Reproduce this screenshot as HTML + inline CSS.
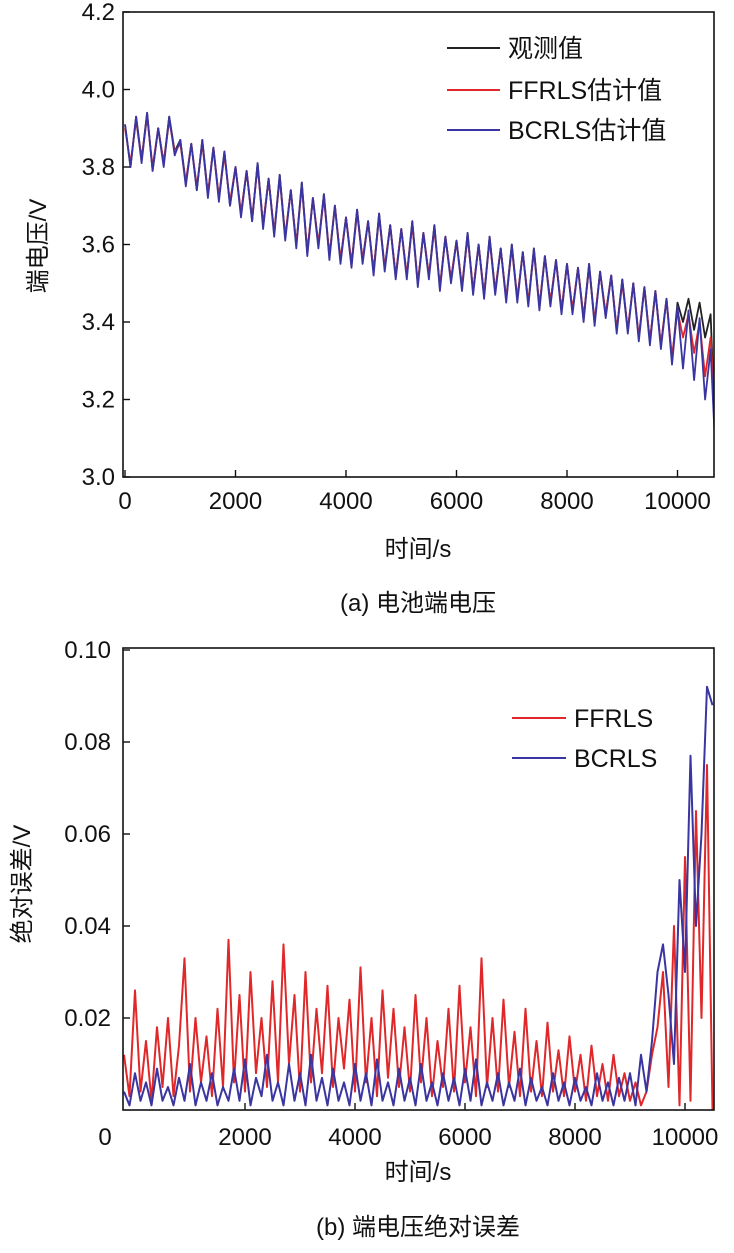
<!DOCTYPE html>
<html><head><meta charset="utf-8"><style>
body{margin:0;background:#fff;width:734px;height:1248px;overflow:hidden}
svg text{font-family:"Liberation Sans","Noto Sans CJK SC",sans-serif;fill:#111}
</style></head><body>
<svg id="s" width="734" height="1248"></svg>
<script>
// Top chart data (time step 100 s, starting 0)
const vTimes0 = 0, vStep = 100;
const obsV = [3.91,3.80,3.93,3.82,3.94,3.79,3.90,3.81,3.93,3.84,
3.87,3.76,3.86,3.74,3.87,3.73,3.85,3.72,3.84,3.70,
3.80,3.68,3.79,3.66,3.81,3.65,3.77,3.63,3.78,3.62,
3.74,3.60,3.76,3.58,3.72,3.60,3.73,3.57,3.70,3.56,
3.67,3.55,3.69,3.56,3.66,3.53,3.68,3.54,3.65,3.52,
3.64,3.52,3.66,3.50,3.63,3.52,3.65,3.49,3.62,3.51,
3.61,3.49,3.63,3.48,3.60,3.47,3.62,3.48,3.59,3.46,
3.60,3.46,3.58,3.45,3.59,3.44,3.57,3.45,3.56,3.43,
3.55,3.43,3.54,3.41,3.55,3.40,3.53,3.42,3.52,3.38,
3.51,3.38,3.50,3.36,3.49,3.35,3.48,3.34,3.46,3.30,
3.45,3.40,3.46,3.38,3.45,3.36,3.42,3.05];
const ffrlsV = [3.90,3.81,3.92,3.82,3.93,3.80,3.90,3.81,3.92,3.84,
3.86,3.76,3.86,3.75,3.86,3.73,3.85,3.72,3.83,3.71,
3.80,3.68,3.79,3.67,3.80,3.65,3.77,3.63,3.77,3.62,
3.74,3.60,3.75,3.58,3.72,3.60,3.72,3.57,3.70,3.56,
3.67,3.55,3.68,3.56,3.66,3.53,3.67,3.54,3.65,3.52,
3.64,3.52,3.65,3.50,3.63,3.52,3.64,3.49,3.62,3.51,
3.61,3.49,3.62,3.48,3.60,3.47,3.61,3.48,3.59,3.46,
3.59,3.46,3.58,3.45,3.58,3.44,3.57,3.45,3.56,3.43,
3.55,3.43,3.54,3.41,3.54,3.40,3.53,3.42,3.52,3.38,
3.50,3.38,3.50,3.36,3.49,3.35,3.48,3.34,3.46,3.31,
3.43,3.36,3.42,3.32,3.40,3.26,3.36,3.10];
const bcrlsV = [3.91,3.80,3.93,3.81,3.94,3.79,3.90,3.80,3.93,3.83,
3.87,3.75,3.86,3.74,3.87,3.72,3.85,3.71,3.84,3.70,
3.80,3.67,3.79,3.66,3.81,3.64,3.77,3.62,3.78,3.61,
3.74,3.59,3.76,3.57,3.72,3.59,3.73,3.56,3.70,3.55,
3.67,3.54,3.69,3.55,3.66,3.52,3.68,3.53,3.65,3.51,
3.64,3.51,3.66,3.49,3.63,3.51,3.65,3.48,3.62,3.50,
3.61,3.48,3.63,3.47,3.60,3.46,3.62,3.47,3.59,3.45,
3.60,3.45,3.58,3.44,3.59,3.43,3.57,3.44,3.56,3.42,
3.55,3.42,3.54,3.40,3.55,3.39,3.53,3.41,3.52,3.37,
3.51,3.37,3.50,3.35,3.49,3.34,3.48,3.33,3.46,3.29,
3.44,3.28,3.43,3.25,3.41,3.20,3.33,3.02];
const topXTicks = [0,2000,4000,6000,8000,10000];
const topYTicks = ["3.0","3.2","3.4","3.6","3.8","4.0","4.2"];

// Bottom chart data (time step 100 s, starting -200)
const eStart = -200;
const ffrlsE = [.012,.003,.026,.004,.015,.002,.018,.005,.02,.003,
.014,.033,.004,.02,.006,.016,.003,.022,.005,.037,
.006,.025,.004,.03,.008,.02,.005,.028,.006,.036,
.01,.025,.004,.03,.006,.022,.008,.027,.005,.02,
.009,.024,.004,.031,.006,.02,.003,.026,.007,.022,
.005,.018,.004,.025,.006,.02,.003,.015,.005,.022,
.004,.027,.006,.018,.003,.033,.005,.02,.004,.024,
.005,.017,.003,.022,.004,.015,.003,.019,.004,.013,
.003,.016,.004,.012,.002,.014,.003,.010,.002,.012,
.003,.008,.002,.006,.001,.004,.012,.018,.030,.005,
.040,.001,.055,.002,.065,.020,.075,.0];
const bcrlsE = [.004,.001,.008,.002,.006,.001,.009,.002,.005,.001,
.007,.002,.010,.001,.006,.002,.008,.001,.005,.002,
.009,.002,.011,.001,.007,.003,.012,.002,.006,.001,
.010,.002,.008,.001,.012,.002,.007,.001,.009,.002,
.006,.001,.010,.002,.008,.001,.011,.002,.006,.001,
.009,.002,.007,.001,.010,.002,.006,.001,.008,.002,
.007,.001,.009,.002,.011,.001,.006,.002,.008,.001,
.006,.002,.009,.001,.007,.002,.005,.001,.008,.002,
.006,.001,.007,.002,.005,.001,.008,.002,.006,.001,
.007,.002,.008,.001,.012,.004,.015,.030,.036,.025,
.010,.050,.030,.077,.040,.060,.092,.088];
const botXTicks = [2000,4000,6000,8000,10000];
const botYTicks = ["0.02","0.04","0.06","0.08","0.10"];

const NS="http://www.w3.org/2000/svg", s=document.getElementById('s');
function el(t,a,p){const e=document.createElementNS(NS,t);for(const k in a)e.setAttribute(k,a[k]);(p||s).appendChild(e);return e;}
function txt(x,y,str,size,anchor,extra){const e=el('text',Object.assign({x:x,y:y,'font-size':size,'text-anchor':anchor||'middle'},extra||{}));e.textContent=str;return e;}
const defs=el('defs',{});
const cp=el('clipPath',{id:'cb'},defs);el('rect',{x:123,y:648,width:591,height:462},cp);
const cp2=el('clipPath',{id:'ct'},defs);el('rect',{x:123,y:12,width:591,height:465},cp2);

// ---- top chart ----
const T={l:123,r:714,t:12,b:477};
const tx=v=>125+(v/2000)*110.5, ty=v=>477-(v-3.0)/1.2*465;
function line(vals,start,step,xf,yf,color,name,w,clip){
  const d=vals.map((v,i)=>(i?'L':'M')+xf(start+i*step).toFixed(1)+' '+yf(v).toFixed(1)).join('');
  const p=el('path',{d:d,fill:'none',stroke:color,'stroke-width':w||1.6,'stroke-linejoin':'round','clip-path':'url(#'+clip+')'});
  
  
}
line(obsV,0,vStep,tx,ty,'#222','series-observed',1.8,'ct');
line(ffrlsV,0,vStep,tx,ty,'#e0282a','series-ffrls',1.8,'ct');
line(bcrlsV,0,vStep,tx,ty,'#3a35a0','series-bcrls',1.8,'ct');
let fr=el('rect',{x:T.l,y:T.t,width:T.r-T.l,height:T.b-T.t,fill:'none',stroke:'#111','stroke-width':1.6});

topXTicks.forEach(v=>{const x=tx(v);el('line',{x1:x,x2:x,y1:T.b,y2:T.b-7,stroke:'#111','stroke-width':1.4});
 const t=txt(x,T.b+32,String(v),24);});
topYTicks.forEach(v=>{const y=ty(+v);el('line',{x1:T.l,x2:T.l+7,y1:y,y2:y,stroke:'#111','stroke-width':1.4});
 const t=txt(T.l-8,y+8,v,24,'end');});
let a=txt(418,557,'时间/s',24);
a=txt(0,0,'端电压/V',24,'middle',{transform:'translate(46,246) rotate(-90)'});
a=txt(418,611,'(a) 电池端电压',24);
[['观测值','#222',48],['FFRLS估计值','#e0282a',90],['BCRLS估计值','#3a35a0',130]].forEach(([n,c,y])=>{
 el('line',{x1:447,x2:500,y1:y,y2:y,stroke:c,'stroke-width':2});
 const t=txt(508,y+9,n,25,'start');});

// ---- bottom chart ----
const B={l:123,r:714,t:648,b:1110};
const bx=v=>135+(v/2000)*110, by=v=>1110-v/0.1*460;
line(ffrlsE,eStart,100,bx,by,'#e0282a','error-ffrls',2,'cb');
line(bcrlsE,eStart,100,bx,by,'#3a35a0','error-bcrls',2,'cb');
fr=el('rect',{x:B.l,y:B.t,width:B.r-B.l,height:B.b-B.t,fill:'none',stroke:'#111','stroke-width':1.6});

a=txt(105,1145,'0',24);
botXTicks.forEach(v=>{const x=bx(v);el('line',{x1:x,x2:x,y1:B.b,y2:B.b-7,stroke:'#111','stroke-width':1.4});
 const t=txt(x,B.b+35,String(v),24);});
botYTicks.forEach(v=>{const y=by(+v);el('line',{x1:B.l,x2:B.l+7,y1:y,y2:y,stroke:'#111','stroke-width':1.4});
 const t=txt(B.l-12,y+8,v,24,'end');});
a=txt(418,1180,'时间/s',24);
a=txt(0,0,'绝对误差/V',24,'middle',{transform:'translate(30,884) rotate(-90)'});
a=txt(418,1235,'(b) 端电压绝对误差',24);
[['FFRLS','#e0282a',718],['BCRLS','#3a35a0',758]].forEach(([n,c,y])=>{
 el('line',{x1:512,x2:566,y1:y,y2:y,stroke:c,'stroke-width':2});
 const t=txt(574,y+9,n,25,'start');});
</script></body></html>
